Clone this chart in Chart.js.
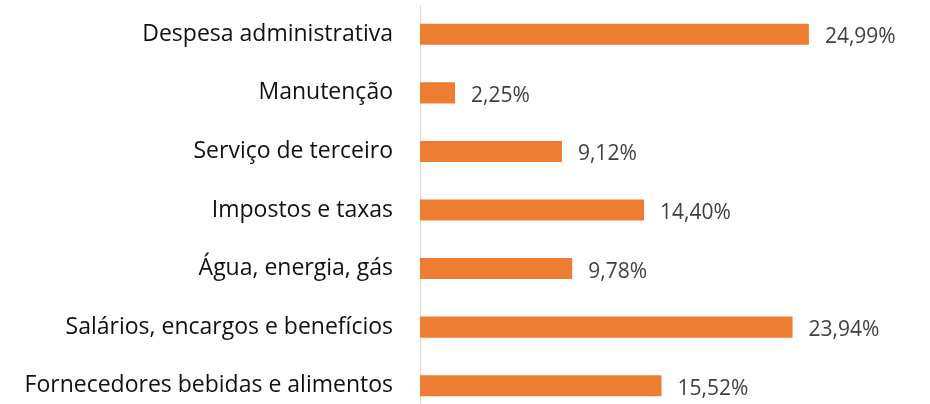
<!DOCTYPE html>
<html>
<head>
<meta charset="utf-8">
<script src="https://cdn.jsdelivr.net/npm/chart.js@4"></script>
<style>
  html, body { margin: 0; padding: 0; background: #fff; overflow: hidden; }
  #wrap { width: 930px; height: 416px; position: relative; }
</style>
</head>
<body>
<div id="wrap"><canvas id="chartDespesas"></canvas></div>
<script>
const categorias = [
    'Despesa administrativa',
    'Manutenção',
    'Serviço de terceiro',
    'Impostos e taxas',
    'Água, energia, gás',
    'Salários, encargos e benefícios',
    'Fornecedores bebidas e alimentos'
];
const percentuais = [24.99, 2.25, 9.12, 14.40, 9.78, 23.94, 15.52];

const fontFamily = '"Open Sans", sans-serif';

// rótulos de valor à direita das barras (formato pt-BR)
const rotulosValor = {
    id: 'rotulosValor',
    afterDatasetsDraw(chart) {
        const ctx = chart.ctx;
        const meta = chart.getDatasetMeta(0);
        ctx.save();
        ctx.font = '21px ' + fontFamily;
        ctx.fillStyle = '#404040';
        ctx.textAlign = 'left';
        ctx.textBaseline = 'middle';
        meta.data.forEach((bar, i) => {
            const txt = percentuais[i].toFixed(2).replace('.', ',') + '%';
            ctx.fillText(txt, bar.x + 16, bar.y + 3);
        });
        ctx.restore();
    }
};

new Chart(document.getElementById('chartDespesas'), {
    type: 'bar',
    data: {
        labels: categorias,
        datasets: [{
            data: percentuais,
            backgroundColor: '#ED7D31',
            categoryPercentage: 1,
            barPercentage: 0.36
        }]
    },
    options: {
        indexAxis: 'y',
        responsive: true,
        maintainAspectRatio: false,
        animation: false,
        layout: { padding: { top: 5, right: 12, bottom: 1, left: 0 } },
        plugins: { legend: { display: false }, tooltip: { enabled: false } },
        scales: {
            x: { display: false, min: 0, max: 32 },
            y: {
                afterFit: (s) => {
                    s.width = 420;
                    s.paddingTop = 0;      // sem folga extra em cima/baixo
                    s.paddingBottom = 0;
                },
                grid: { drawOnChartArea: false, drawTicks: false },
                border: { color: '#d9d9d9', width: 1 },
                ticks: {
                    padding: 27,
                    color: '#111111',
                    font: { family: fontFamily, size: 23 }
                }
            }
        }
    },
    plugins: [rotulosValor]
});
</script>
</body>
</html>
